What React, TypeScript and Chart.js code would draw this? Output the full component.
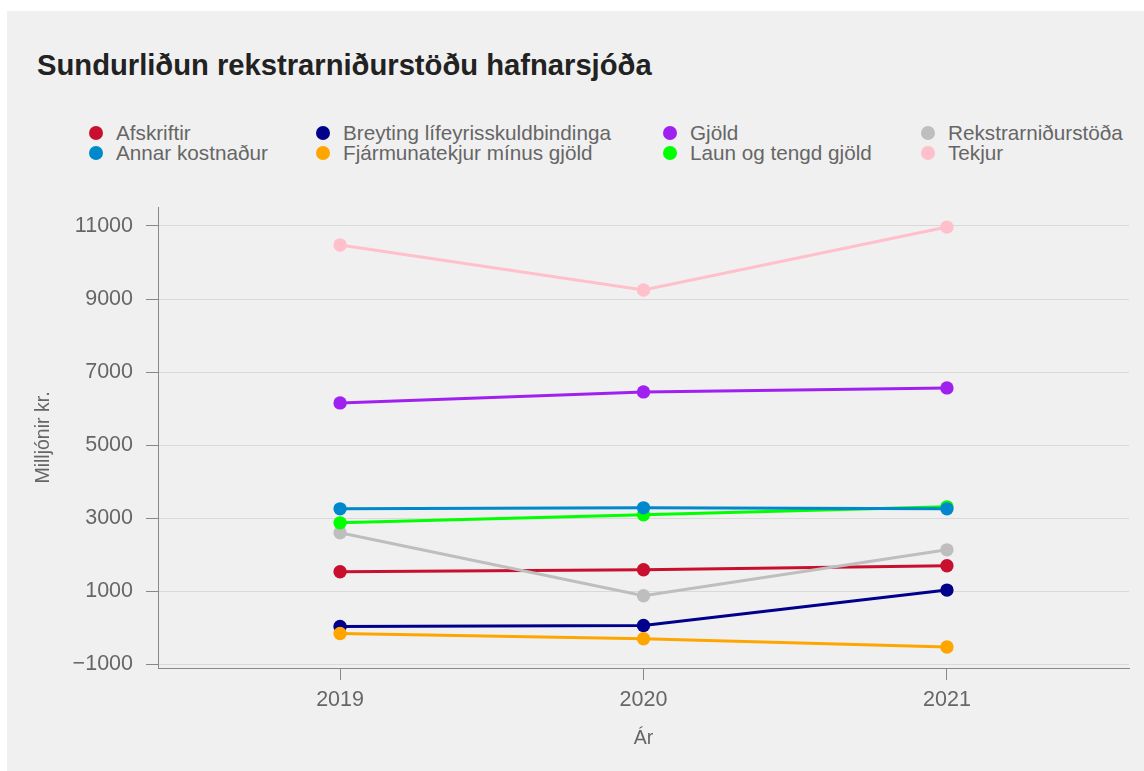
import React, { useEffect, useRef } from 'react';
import { Chart, registerables } from 'chart.js';

Chart.register(...registerables);

// ---- data ----
const chartTitle = 'Sundurliðun rekstrarniðurstöðu hafnarsjóða';
const xAxisTitle = 'Ár';
const yAxisTitle = 'Milljónir kr.';
const years = [2019, 2020, 2021];
const yTickValues = [-1000, 1000, 3000, 5000, 7000, 9000, 11000];

const afskriftir = [1533, 1588, 1698];
const annarKostnadur = [3257, 3284, 3257];
const breytingLifeyris = [37, 64, 1033];
const fjarmunatekjur = [-155, -300, -527];
const gjold = [6157, 6458, 6568];
const launOgTengd = [2874, 3093, 3312];
const rekstrarnidurstada = [2600, 877, 2135];
const tekjur = [10480, 9249, 10970];

const seriesNames = [
  'Afskriftir',
  'Annar kostnaður',
  'Breyting lífeyrisskuldbindinga',
  'Fjármunatekjur mínus gjöld',
  'Gjöld',
  'Laun og tengd gjöld',
  'Rekstrarniðurstöða',
  'Tekjur',
];
const seriesValues = [
  afskriftir,
  annarKostnadur,
  breytingLifeyris,
  fjarmunatekjur,
  gjold,
  launOgTengd,
  rekstrarnidurstada,
  tekjur,
];

// ---- styles ----
const seriesColors = ['#c8102e', '#0088cc', '#00008b', '#ffa500', '#a020f0', '#00ff00', '#bebebe', '#ffc0cb'];
const seriesDrawOrder = [5, 0, 4, 3, 6, 1, 2, 7];
const FONT = '"Liberation Sans", Arial, Helvetica, sans-serif';
const legendColumnX = [89, 316, 663, 921];
const legendRowY = [121.5, 142];

const fmt = (v: number) => (v < 0 ? '\u2212' + Math.abs(v) : String(v));

export default function App() {
  const canvasRef = useRef<HTMLCanvasElement | null>(null);

  useEffect(() => {
    if (!canvasRef.current) return;
    const chart = new Chart(canvasRef.current, {
      type: 'line',
      data: {
        datasets: seriesNames.map((name, i) => ({
          label: name,
          data: years.map((yr, j) => ({ x: yr, y: seriesValues[i][j] })),
          borderColor: seriesColors[i],
          backgroundColor: seriesColors[i],
          pointBackgroundColor: seriesColors[i],
          pointBorderWidth: 0,
          pointRadius: 6.7,
          borderWidth: 3,
          fill: false,
          tension: 0,
          order: seriesDrawOrder[i],
        })),
      },
      options: {
        animation: false,
        responsive: true,
        maintainAspectRatio: false,
        layout: { padding: { top: 17, right: 15, left: 0, bottom: 0 } },
        plugins: {
          legend: { display: false },
          title: { display: false },
          tooltip: { enabled: false },
        },
        scales: {
          x: {
            type: 'linear',
            min: 2018.4,
            max: 2021.6,
            afterBuildTicks: (scale: any) => {
              scale.ticks = years.map((v) => ({ value: v }));
            },
            afterFit: (scale: any) => {
              scale.height = 103;
              scale.paddingLeft = 0;
              scale.paddingRight = 0;
            },
            grid: {
              drawOnChartArea: false,
              drawTicks: true,
              tickLength: 12,
              tickColor: '#888888',
              tickWidth: 1,
            },
            border: { display: true, color: '#888888', width: 1 },
            ticks: {
              color: '#666666',
              font: { family: FONT, size: 21.5 },
              padding: 7,
              maxRotation: 0,
              callback: (v: any) => String(v),
            },
            title: {
              display: true,
              text: xAxisTitle,
              color: '#666666',
              font: { family: FONT, size: 19.5 },
              padding: { top: 0, bottom: 21 },
            },
          },
          y: {
            type: 'linear',
            min: -1100,
            max: 11520,
            afterBuildTicks: (scale: any) => {
              scale.ticks = yTickValues.map((v) => ({ value: v }));
            },
            afterFit: (scale: any) => {
              scale.width = 151;
              scale.paddingTop = 0;
              scale.paddingBottom = 0;
            },
            grid: {
              color: '#d9d9d9',
              lineWidth: 1,
              drawTicks: true,
              tickLength: 12,
              tickColor: '#888888',
            },
            border: { display: true, color: '#888888', width: 1 },
            ticks: {
              color: '#666666',
              font: { family: FONT, size: 21.5 },
              padding: 13,
              callback: (v: any) => fmt(Number(v)),
            },
            title: {
              display: true,
              text: yAxisTitle,
              color: '#666666',
              font: { family: FONT, size: 19.5 },
              padding: { top: 25, bottom: 0 },
            },
          },
        },
      },
    } as any);
    return () => chart.destroy();
  }, []);

  return (
    <div
      style={{
        position: 'absolute',
        left: 7,
        top: 11,
        width: 1137,
        height: 760,
        background: '#f0f0f0',
        overflow: 'hidden',
        fontFamily: FONT,
      }}
    >
      <div
        style={{
          position: 'absolute',
          left: 30,
          top: 39.5,
          fontSize: 29.2,
          lineHeight: '29px',
          fontWeight: 'bold',
          color: '#222222',
          whiteSpace: 'nowrap',
        }}
      >
        {chartTitle}
      </div>
      {seriesNames.map((name, i) => {
        const col = Math.floor(i / 2);
        const row = i % 2;
        return (
          <div
            key={name}
            style={{
              position: 'absolute',
              left: legendColumnX[col] - 7,
              top: legendRowY[row] - 10,
              height: 20,
              display: 'flex',
              alignItems: 'center',
              whiteSpace: 'nowrap',
            }}
          >
            <span
              style={{
                display: 'inline-block',
                width: 14,
                height: 14,
                borderRadius: '50%',
                background: seriesColors[i],
                marginRight: 13,
              }}
            />
            <span style={{ fontSize: 20.7, lineHeight: '20px', color: '#666666' }}>{name}</span>
          </div>
        );
      })}
      <div style={{ position: 'absolute', left: 0, top: 179, width: 1137, height: 581 }}>
        <canvas ref={canvasRef} />
      </div>
    </div>
  );
}
